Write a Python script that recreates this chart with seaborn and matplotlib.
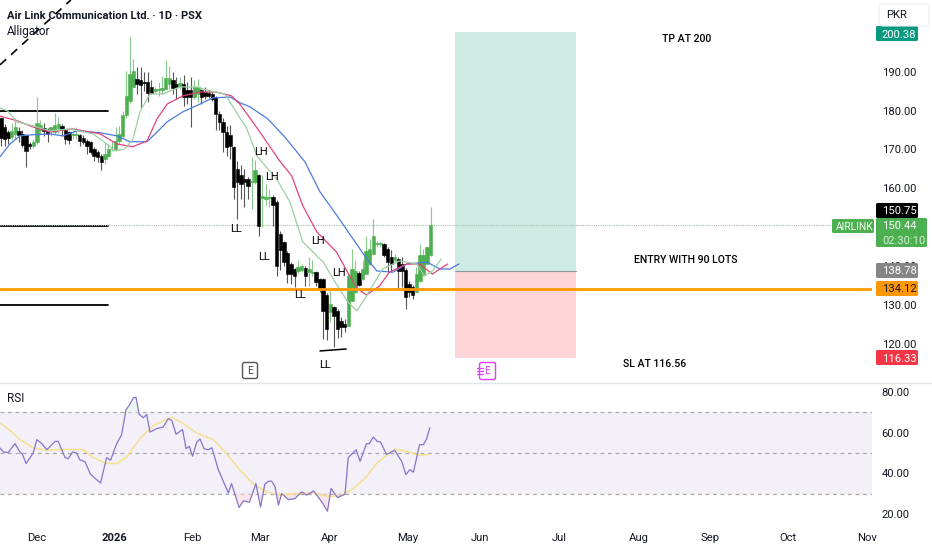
import matplotlib
matplotlib.use('Agg')
import matplotlib.pyplot as plt
from matplotlib.patches import FancyBboxPatch, Rectangle
import numpy as np
import pandas as pd
import seaborn as sns

# CANDLES (daily)

opens = [178.0,175.7,174.4,173.3,174.0,174.8,173.9,173.6,171.3,171.0,
         171.8,175.0,175.5,175.0,174.8,174.6,175.6,176.0,174.9,174.4,
         173.6,173.6,173.6,172.9,172.3,171.9,170.2,169.3,168.4,167.6,
         168.4,170.0,170.2,172.3,173.4,178.8,182.6,186.1,188.2,188.0,
         187.5,187.5,186.1,185.0,185.3,185.3,185.6,186.9,187.8,186.9,
         186.4,186.9,185.2,185.2,183.5,184.2,185.2,184.8,184.5,184.3,
         183.5,179.2,177.0,174.5,173.6,170.6,165.0,163.3,162.4,162.4,
         161.6,161.6,163.3,157.5,157.3,157.4,157.7,156.4,148.2,146.1,
         143.3,140.5,139.2,138.8,139.0,139.4,138.4,138.2,138.5,136.6,
         136.6,132.4,128.2,129.3,128.5,125.9,125.0,124.6,131.0,133.2,
         138.2,136.6,138.0,140.5,143.1,145.6,145.6,145.7,144.4,142.2,
         141.6,141.8,140.5,139.0,135.4,134.5,133.4,136.2,137.9,140.5,
         142.7]
highs = [178.4,176.5,175.0,176.8,178.2,175.7,175.0,174.0,171.9,172.8,
         183.5,177.5,176.8,175.5,175.9,179.5,178.3,176.6,175.2,174.8,
         175.0,175.7,174.0,173.6,172.8,172.2,170.6,169.8,168.8,171.9,
         171.4,172.3,175.7,176.0,180.0,190.3,199.0,193.4,191.2,191.2,
         189.9,189.9,187.8,186.0,187.3,189.0,193.0,191.6,189.9,188.6,
         188.6,189.1,187.3,188.6,187.8,188.2,185.6,186.1,185.2,184.8,
         183.9,180.0,178.0,176.0,176.2,171.0,167.0,165.9,165.0,163.0,
         168.0,167.2,163.7,163.3,161.2,159.9,158.2,157.0,149.0,146.5,
         143.8,141.0,139.5,141.4,140.5,139.9,142.2,141.4,138.8,137.0,
         137.0,133.0,134.0,129.8,129.0,126.8,126.3,137.9,144.4,141.4,
         138.8,141.4,147.8,147.0,152.1,146.5,146.2,146.0,144.8,144.2,
         143.0,142.2,142.2,139.5,136.0,135.0,139.6,145.7,144.4,145.2,
         155.1]
lows = [171.0,171.0,171.5,172.5,172.8,172.0,170.6,165.4,170.0,170.4,
        171.4,174.0,173.5,171.9,173.5,174.0,174.2,173.5,171.5,171.4,
        172.8,172.8,171.0,171.5,168.9,168.9,167.1,166.7,164.7,166.3,
        168.0,169.5,169.8,171.5,173.0,178.0,182.0,186.0,184.3,180.9,
        185.0,182.2,184.2,184.5,183.9,184.3,185.2,185.6,184.3,183.0,
        185.6,181.3,181.8,175.9,183.0,182.2,181.8,183.0,183.2,182.6,
        174.9,174.9,169.3,168.4,167.6,157.3,152.1,157.3,155.1,157.3,
        154.7,161.0,147.8,150.0,155.6,155.1,150.4,137.5,139.0,140.0,
        135.6,135.3,134.5,137.9,138.4,134.8,134.9,137.5,134.9,133.2,
        121.2,120.8,125.5,119.0,121.4,121.6,122.9,124.4,131.0,133.0,
        134.8,136.4,138.0,140.3,143.0,144.8,145.0,142.2,138.4,138.4,
        140.8,134.0,134.5,128.9,131.9,131.5,133.2,135.8,137.5,140.6,
        142.6]
closes = [173.0,172.8,172.9,174.8,175.8,173.6,171.2,169.7,170.8,172.0,
          176.9,176.2,174.7,174.0,175.7,176.3,176.6,174.9,172.7,172.5,
          174.0,174.0,172.3,171.9,171.0,169.3,168.4,168.0,166.7,168.9,
          170.0,170.2,172.3,174.0,178.8,183.7,189.5,190.3,186.9,186.7,
          187.0,184.5,184.5,185.6,185.6,185.9,188.5,188.5,185.9,186.2,
          187.1,183.5,183.6,183.5,186.1,186.2,183.5,183.9,183.9,183.0,
          179.2,177.0,174.5,170.6,171.0,160.3,161.6,161.2,161.6,160.7,
          162.0,164.6,150.4,157.9,157.8,157.8,155.6,140.1,144.0,141.0,
          137.9,137.9,137.5,139.6,139.9,137.5,139.2,138.5,135.8,134.1,
          128.5,123.8,130.2,127.2,123.8,124.2,124.2,137.5,139.2,138.8,
          135.0,139.2,143.9,144.4,147.8,145.9,145.8,142.7,141.0,140.5,
          142.2,138.8,138.8,131.9,133.2,132.4,137.9,142.7,142.7,144.8,
          150.44]

# ALLIGATOR LINES (bar number, price)

jaw_x = [-0.3,2.5,5.3,8.9,13.7,17.3,21.2,27.7,32.4,36,40.8,43.6,46.4,50.8,55.6,59.2,64,66.8,69.5,74.5,
         79.3,84.9,89.1,93.9,98.3,102.2,105,109.5,113.4,119,122.6,125.4,127.9]
jaw_y = [168.1,171.4,173.5,173.8,174,173.5,174.8,174.3,173.5,172,172,174.5,177.1,179.7,181.7,183.3,183.5,182,181,177.9,
         173.2,166.8,159.1,152.9,147,141.8,138.7,138.4,140.5,141,139.2,139.2,140.5]
teeth_x = [-0.3,4.5,8.9,13.7,20.1,27.7,32.4,36.8,40.8,43.6,46.4,50.8,55.6,60.2,64.4,66.7,71.7,77.8,81.2,84.3,
           88.2,93.7,96.8,99.6,102.1,105.7,108.5,113.3,116.9,120.5,124.7]
teeth_y = [178.6,177.4,175.8,174.5,175.3,174,171.4,170.7,172.2,177.9,181.7,183.8,184.8,184.8,183.8,181.7,175.3,167.1,163.2,155.5,
           148.8,143.6,138.4,134.1,132.5,134.8,138.4,140.5,140.5,137.9,140.5]
lips_x = [-0.3,1.9,4.5,8.9,13.7,19.3,25.7,29.6,31.8,34.6,36.9,38.8,41.6,45.2,50,54.7,58.3,62.5,68.7,71.5,
          77,80.7,84.3,90,93.3,96.9,99.4,102.1,106.6,111.3,116.1,118.3,120.5,123]
lips_y = [180.7,179.9,177.1,176.1,174.8,175.3,174,171.4,169.6,170.1,172.7,179.7,184.3,184.3,186.1,186.1,185.1,184.3,175.3,168.3,
          162.4,156.5,146.2,141,135.9,130.7,128.4,132.3,139.2,141.3,140.5,137.4,138.7,141.8]

# RSI PANE

rsi_x = [-0.3,0.7,2,3.9,5.3,6,7,9,10,11.4,12.8,15.1,16,17.9,18.8,20,21.1,22,23.5,25,
         27.8,29.5,30.6,32.3,33.7,34.9,35.8,37,37.7,38.6,39.8,40.7,41.6,43.5,45.3,46.7,47.7,48.9,50.7,51.7,
         52.6,53.5,54.7,55.6,56.7,57.9,58.9,60.7,63.5,64.4,66.5,67.7,69.4,71.2,72.5,73.7,74.7,75.6,76.5,77.5,
         78.4,80.3,82.1,84,85.4,87.3,89.6,91.2,92.2,94,96.1,97,99.2,100.3,102.1,102.9,104,105.1,106,107.7,
         110,112,113.1,114.2,115.2,116.9,118,118.9,119.8]
rsi_y = [52.5,50.5,50.2,54.6,50.5,49.3,44.8,50,56.6,54.6,51.6,55.7,55.7,47.7,47.2,50.5,50,46.7,45.6,39.5,
         35.2,47.7,46.4,54.6,59,71.3,73.4,77.2,77.5,69,67.4,69,60.3,62,62.8,66.9,66.1,59.2,61.6,52.1,
         53.3,48.4,55.4,56.9,52.1,51.6,52.6,41.8,30.3,34.9,23.1,26.4,25.7,34.9,23.4,34.6,36.1,36.1,33.6,24.3,
         30,27,27.5,30.8,29.2,31.3,25.9,21.3,32.5,28,29.7,47.7,51.6,45.9,54.6,54.6,57.9,55.7,55.4,49.3,
         51.3,45.6,39.3,41.8,40.5,54.1,54.1,57,62.5]
rsi_ma_x = [-0.3,2.5,5.3,9,12.8,17.4,23,25.8,29.5,32.3,35.1,38.8,42.6,47.7,51,54.7,59.3,63,66.8,70.5,
            74.2,78,81.7,87.3,91,94.7,98.4,102.1,104.9,107.7,110,113.3,116.6,119.8]
rsi_ma_y = [64.8,61.1,56.6,52.5,51.3,51.8,51.6,47.7,44.8,44.8,48,57,63.6,67.7,64.4,59.8,56.6,49.7,41.5,34.6,
            30.8,29.2,30,30.3,28.7,28.7,32.5,38.2,44.8,48.9,51.8,51,48.9,49.3]

# AXIS TICKS

price_ticks = [120,130,140,160,170,180,190]
rsi_ticks = [20,40,60,80]
month_pos = [10.1,31.8,53.4,72.3,91.9,113.7,133.8,155.9,178,198.1,219.8,241.9]
month_labels = ['Dec','2026','Feb','Mar','Apr','May','Jun','Jul','Aug','Sep','Oct','Nov']

# POSITION TOOL AND LEVELS

tp_price = 200.38
entry_price = 138.78
sl_price = 116.33
last_price = 150.44
orange_price = 134.12
support_levels = [179.9,150.3,129.9]

W, H = 932, 550
FONT = 'Roboto'
TICK_SIZE = 8.1

sns.set_theme(style='white')
plt.rcParams['font.family'] = [FONT, 'DejaVu Sans']

fig = plt.figure(figsize=(W / 100, H / 100), dpi=100, facecolor='white')
ax = fig.add_axes([0, 1 - 382 / H, 872 / W, 382 / H])
ax2 = fig.add_axes([0, 1 - 525 / H, 872 / W, 142 / H])

xmin, xmax = -0.28, 243.3
ax.set_xlim(xmin, xmax)
ax.set_ylim(110.1, 208.5)
ax2.set_xlim(xmin, xmax)
ax2.set_ylim(14.5, 84.5)

# POSITION BOX

ax.add_patch(Rectangle((126.8, entry_price), 33.8, tp_price - entry_price, color='#cdeae3', lw=0, zorder=1))
ax.add_patch(Rectangle((126.8, sl_price), 33.8, entry_price - sl_price, color='#fdd5d9', lw=0, zorder=1))
ax.plot([126.8, 160.6], [entry_price, entry_price], color='#8a9a96', lw=0.8, zorder=2)

# DRAWINGS

for level in support_levels:
    ax.plot([xmin, 30], [level, level], color='black', lw=1.3, zorder=2)
ax.plot([-0.28, 19.5], [191.8, 208.5], color='black', lw=1.2, ls=(0, (5, 4)), zorder=2)
ax.plot([89.1, 96.4], [118.1, 118.6], color='black', lw=1.1, zorder=5)
ax.axhline(last_price, color='#a9bfae', lw=0.8, ls=(0, (1, 1)), zorder=2)

# CANDLES

df = pd.DataFrame({'o': opens, 'h': highs, 'l': lows, 'c': closes})
df['bar'] = np.arange(len(df))
colors = np.where(df['c'] >= df['o'], '#4caf50', '#000000')
wick_colors = np.where(df['c'] >= df['o'], '#86c98a', '#555555')
ax.vlines(df['bar'], df['l'], df['h'], colors=wick_colors, lw=0.8, zorder=3)
ax.bar(df['bar'], (df['c'] - df['o']).abs(), bottom=df[['o', 'c']].min(axis=1), width=0.95,
       color=colors, edgecolor=colors, linewidth=0.4, zorder=4)

# ALLIGATOR

sns.lineplot(x=jaw_x, y=jaw_y, ax=ax, color='#4a7be0', lw=0.9, sort=False, estimator=None, zorder=6)
sns.lineplot(x=teeth_x, y=teeth_y, ax=ax, color='#e0447a', lw=0.9, sort=False, estimator=None, zorder=6)
sns.lineplot(x=lips_x, y=lips_y, ax=ax, color='#9ccfa3', lw=0.9, sort=False, estimator=None, zorder=6)

ax.axhline(orange_price, color='#ff9800', lw=2, zorder=7)

ax.yaxis.tick_right()
ax.set_yticks(price_ticks)
ax.set_yticklabels(['%.2f' % t for t in price_ticks], fontsize=TICK_SIZE, color='#131722')
ax.tick_params(axis='y', length=0, pad=7)
ax.set_xticks([])
for side in ['top', 'left', 'right', 'bottom']:
    ax.spines[side].set_visible(False)

# RSI

rsi_arr = np.array(rsi_y)
ax2.axhspan(30, 70, color='#f3f0fa', lw=0, zorder=1)
for level in [70, 50, 30]:
    ax2.axhline(level, color='#a8a8b0', lw=0.9, ls=(0, (3, 3)), zorder=2)
ax2.fill_between(rsi_x, rsi_arr, 30, where=rsi_arr < 30, color='#f8d5dc', alpha=0.6, interpolate=True, lw=0, zorder=2)
ax2.fill_between(rsi_x, rsi_arr, 70, where=rsi_arr > 70, color='#d8efe2', alpha=0.5, interpolate=True, lw=0, zorder=2)
sns.lineplot(x=rsi_ma_x, y=rsi_ma_y, ax=ax2, color='#f6df8e', lw=1.1, sort=False, estimator=None, zorder=3)
sns.lineplot(x=rsi_x, y=rsi_y, ax=ax2, color='#8674c8', lw=0.9, sort=False, estimator=None, zorder=4)

ax2.yaxis.tick_right()
ax2.set_yticks(rsi_ticks)
ax2.set_yticklabels(['%.2f' % t for t in rsi_ticks], fontsize=TICK_SIZE, color='#131722')
ax2.tick_params(axis='y', length=0, pad=7)
ax2.set_xticks(month_pos)
ax2.set_xticklabels(month_labels, fontsize=TICK_SIZE, color='#131722')
ax2.tick_params(axis='x', length=0, pad=6)
ax2.get_xticklabels()[1].set_fontweight('bold')
for side in ['top', 'left', 'right', 'bottom']:
    ax2.spines[side].set_visible(False)

# OVERLAY FOR LABELS (pixel units)

ov = fig.add_axes([0, 0, 1, 1], facecolor='none')
ov.set_xlim(0, W)
ov.set_ylim(H, 0)
ov.axis('off')

ov.plot([0, W], [382.5, 382.5], color='#e3e5ea', lw=1)


def badge(x0, y0, x1, y1, color, lines, text_colors, size=TICK_SIZE, left=6):
    ov.add_patch(FancyBboxPatch((x0 + 1, y0 + 1), x1 - x0 - 2, y1 - y0 - 2, boxstyle='round,pad=1,rounding_size=1.5',
                                fc=color, ec='none', zorder=10))
    step = (y1 - y0) / len(lines)
    for k, (txt, tc) in enumerate(zip(lines, text_colors)):
        ov.text(x0 + left, y0 + step * (k + 0.5), txt, color=tc, fontsize=size, va='center_baseline', ha='left', zorder=11)


badge(876, 203, 918, 218, '#000000', ['150.75'], ['white'])
badge(876, 218, 927, 247, '#4caf50', ['150.44', '02:30:10'], ['white', '#d6efd7'])
badge(832, 219, 874, 233, '#4caf50', ['AIRLINK'], ['white'], size=7.4, left=4)
badge(876, 263, 918, 278, '#858585', ['138.78'], ['white'])
badge(876, 281, 918, 296, '#ff9800', ['134.12'], ['#131722'])
badge(876, 350, 918, 365, '#f23645', ['116.33'], ['white'])
badge(876, 26, 918, 41, '#089981', ['200.38'], ['white'])

ov.add_patch(FancyBboxPatch((880, 5), 48, 20, boxstyle='round,pad=1,rounding_size=4', fc='white', ec='#eceef2', lw=0.8, zorder=12))
ov.text(886, 15.5, 'PKR', fontsize=TICK_SIZE, color='#131722', va='center', zorder=13)

ov.text(7, 16, 'Air Link Communication Ltd. · 1D · PSX', fontsize=8, fontweight='bold', color='#131722', va='center')
ov.text(7, 31.5, 'Alligator', fontsize=8.5, color='#131722', va='center')
ov.text(7, 399, 'RSI', fontsize=8.5, color='#131722', va='center')

marks = [('LH', 261, 152), ('LH', 272, 177), ('LL', 236, 229), ('LL', 264, 257), ('LH', 318, 241),
         ('LH', 339, 273), ('LL', 300, 295), ('LL', 325, 365)]
for txt, mx, my in marks:
    ov.text(mx, my, txt, fontsize=8, color='black', ha='center', va='center', zorder=9)

ov.text(687, 39, 'TP AT 200', fontsize=7.6, fontweight='medium', color='black', ha='center', va='center')
ov.text(686, 260, 'ENTRY WITH 90 LOTS', fontsize=7.6, fontweight='medium', color='black', ha='center', va='center')
ov.text(655, 364, 'SL AT 116.56', fontsize=7.6, fontweight='medium', color='black', ha='center', va='center')

# EARNINGS ICONS

ov.add_patch(FancyBboxPatch((243, 363), 14, 15, boxstyle='round,pad=0.5,rounding_size=2', fc='white', ec='#555555', lw=1, zorder=9))
ov.text(250, 370.5, 'E', fontsize=7.5, color='#444444', ha='center', va='center', zorder=10)
ov.add_patch(FancyBboxPatch((480, 363), 15, 16, boxstyle='round,pad=0.5,rounding_size=2', fc='white', ec='#e040fb', lw=1, zorder=9))
ov.text(487.5, 371, 'E', fontsize=7.5, color='#e040fb', ha='center', va='center', zorder=10)
for dy in [368, 371, 374]:
    ov.plot([477, 483], [dy, dy], color='#e040fb', lw=0.9, zorder=11)

fig.savefig('out.png', dpi=100)
